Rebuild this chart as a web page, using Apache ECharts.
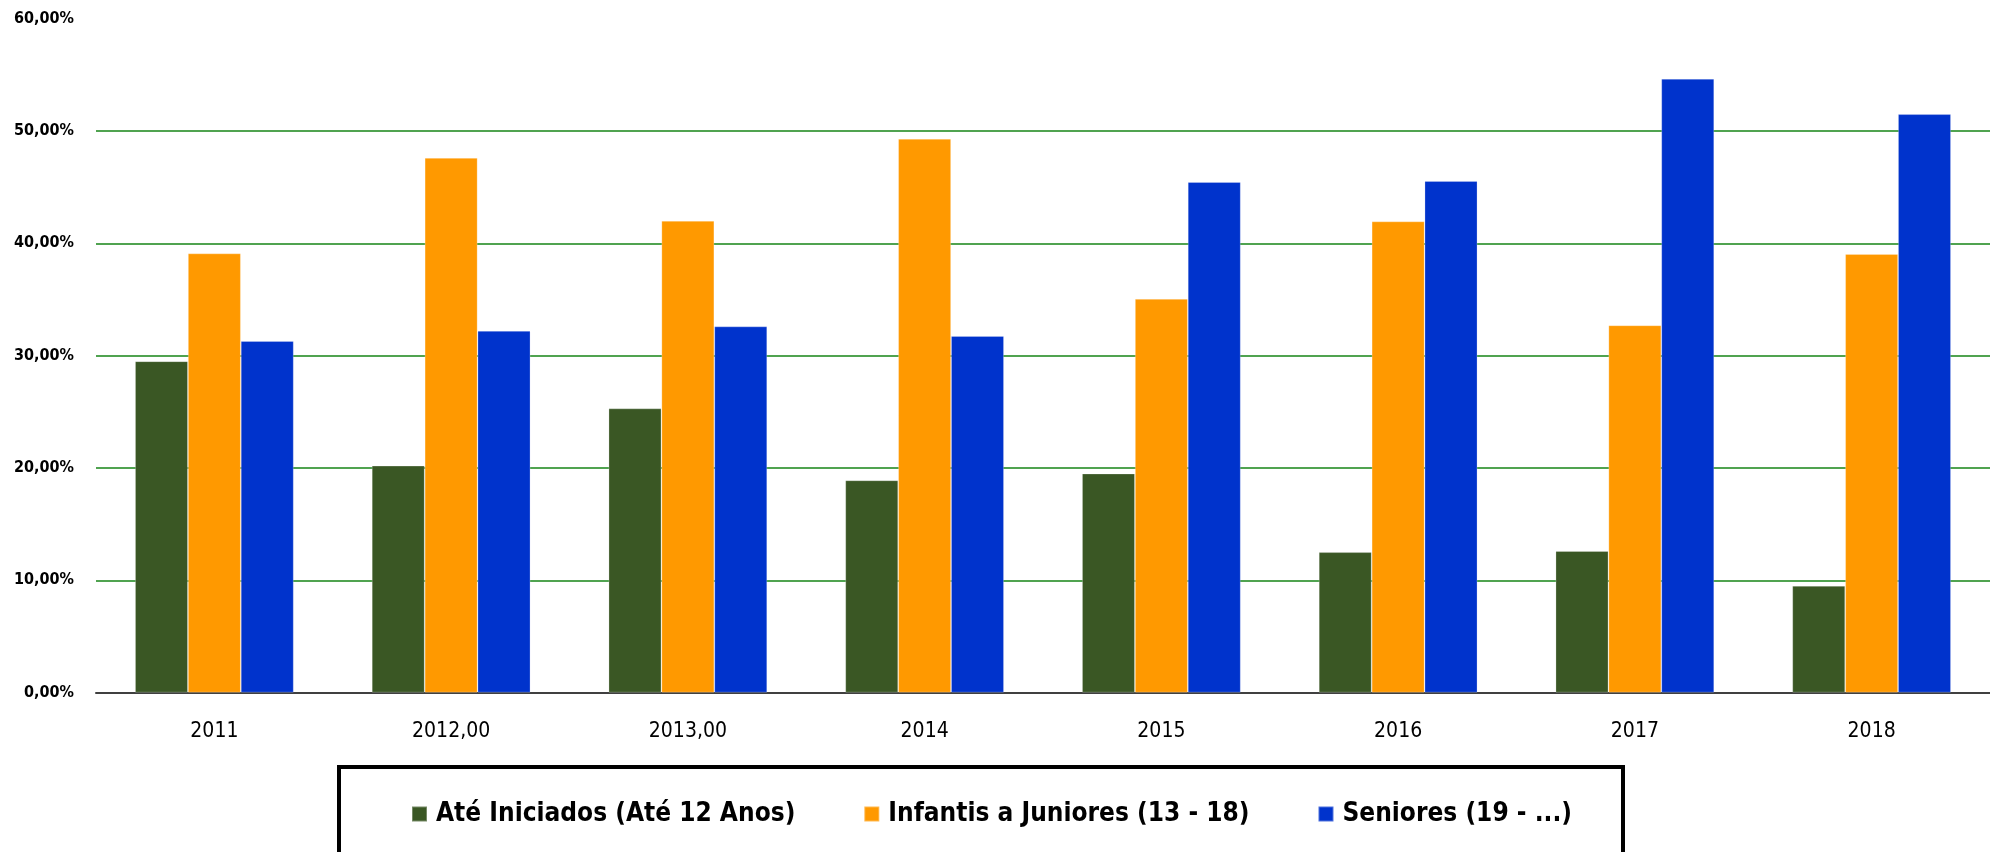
<!DOCTYPE html>
<html>
<head>
<meta charset="utf-8">
<script src="https://cdn.jsdelivr.net/npm/echarts@6/dist/echarts.min.js"></script>
<style>
  html, body { margin: 0; padding: 0; background: #fff; }
  #chart { width: 1990px; height: 852px; }
</style>
</head>
<body>
<div id="chart"></div>
<script>
// data
const years = ['2011', '2012,00', '2013,00', '2014', '2015', '2016', '2017', '2018']
const ateIniciados = [29.5, 20.2, 25.3, 18.9, 19.5, 12.5, 12.6, 9.5]
const infantisJuniores = [39.1, 47.6, 42.0, 49.3, 35.05, 41.95, 32.7, 39.05]
const seniores = [31.3, 32.2, 32.6, 31.75, 45.45, 45.55, 54.65, 51.5]
const seriesNames = ['Até Iniciados (Até 12 Anos)', 'Infantis a Juniores (13 - 18)', 'Seniores (19 - ...)']
const seriesColors = ['#3a5724', '#ff9900', '#0033cc']

const font = '"DejaVu Sans Condensed", "Liberation Sans Narrow", sans-serif'

function pct(v) {
  return v.toFixed(2).replace('.', ',') + '%'
}

function barSeries(name, data, color) {
  return {
    name: name,
    type: 'bar',
    data: data,
    barGap: '0%',
    barCategoryGap: '33%',
    itemStyle: { color: color, borderColor: 'rgba(255,255,255,0.3)', borderWidth: 0.8 },
  }
}

const chart = echarts.init(document.getElementById('chart'))

chart.setOption({
  animation: false,
  textStyle: { fontFamily: font },
  grid: { left: 96, right: 0, top: 18.7, bottom: 159.4, outerBoundsMode: 'none' },
  legend: {
    left: 406,
    top: 796,
    itemWidth: 15,
    itemHeight: 15,
    itemGap: 68,
    icon: 'rect',
    textStyle: { fontFamily: font, fontWeight: 'bold', fontSize: 26, color: '#000', padding: [0, 0, 0, 4] },
  },
  graphic: [
    {
      type: 'rect',
      shape: { x: 339, y: 767, width: 1284, height: 110 },
      style: { fill: 'none', stroke: '#000', lineWidth: 4 },
      silent: true,
    },
  ],
  xAxis: {
    type: 'category',
    data: years,
    axisLine: { lineStyle: { color: '#404040', width: 2 } },
    axisTick: { length: 9, lineStyle: { color: '#404040', width: 2 } },
    axisLabel: { color: '#000', fontSize: 21, margin: 28, fontFamily: font },
  },
  yAxis: {
    type: 'value',
    min: 0,
    max: 60,
    interval: 10,
    axisLine: { show: false },
    axisTick: { show: false },
    axisLabel: { color: '#000', fontSize: 16, fontWeight: 'bold', margin: 22, fontFamily: font, formatter: pct },
    splitLine: { showMinLine: false, showMaxLine: false, lineStyle: { color: '#168416', width: 1.6 } },
  },
  series: [
    barSeries(seriesNames[0], ateIniciados, seriesColors[0]),
    barSeries(seriesNames[1], infantisJuniores, seriesColors[1]),
    barSeries(seriesNames[2], seniores, seriesColors[2]),
  ],
})
</script>
</body>
</html>
